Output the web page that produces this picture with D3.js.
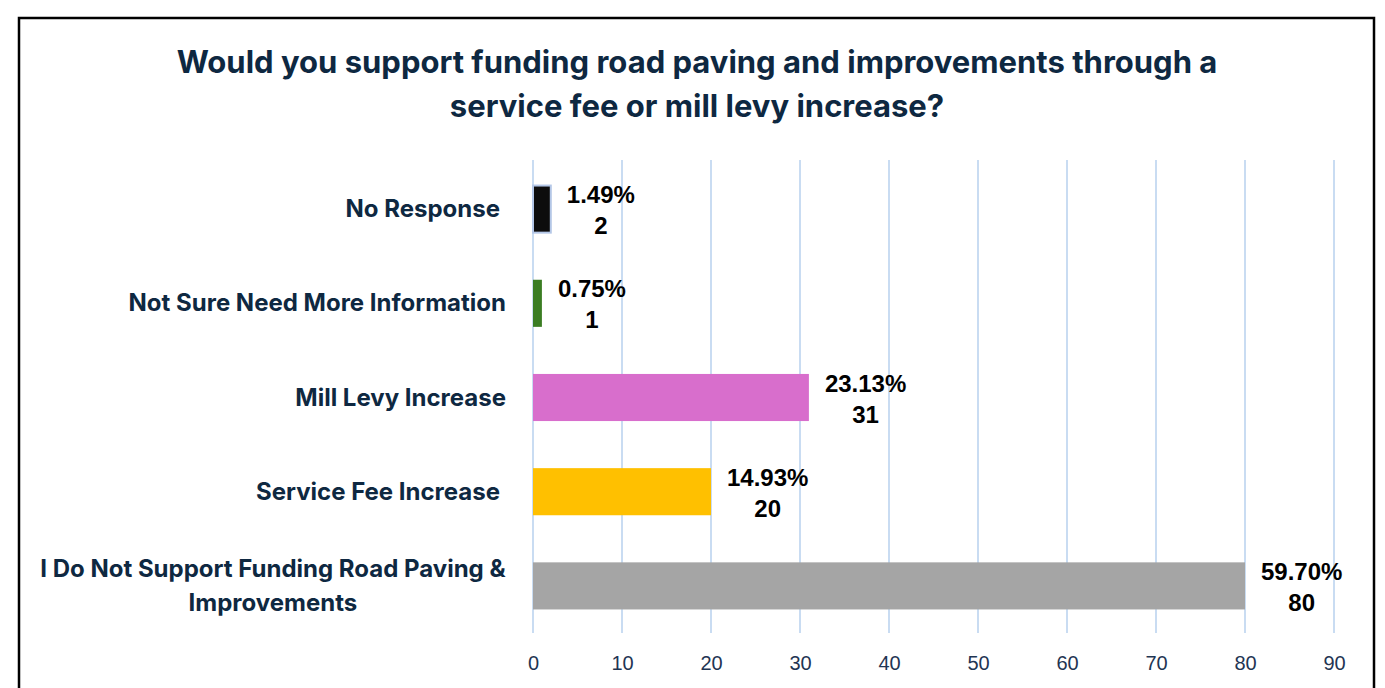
<!DOCTYPE html>
<html lang="en">
<head>
<meta charset="utf-8">
<title>Road Paving Funding Survey</title>
<script src="https://d3js.org/d3.v7.min.js"></script>
<style>
  body { margin: 0; background: #fff; }
  svg { display: block; }
  .title { font-family: Inter, "Noto Sans", sans-serif; font-weight: 700; font-size: 31px; fill: #0e2841; }
  .cat { font-family: Inter, "Noto Sans", sans-serif; font-weight: 700; font-size: 24px; fill: #0e2841; }
  .tick text { font-family: "Liberation Sans", Arial, sans-serif; font-size: 20px; fill: #1f3553; }
  .val { font-family: "Liberation Sans", Arial, sans-serif; font-weight: 700; font-size: 24px; fill: #000; }
</style>
</head>
<body>
<svg width="1385" height="688"></svg>
<script>
// data, top to bottom
const categories = ["No Response", "Not Sure Need More Information", "Mill Levy Increase", "Service Fee Increase", "I Do Not Support Funding Road Paving & Improvements"];
const counts = [2, 1, 31, 20, 80];
const percents = ["1.49%", "0.75%", "23.13%", "14.93%", "59.70%"];
const colors = ["#0d0d0d", "#3b7d23", "#d86ecc", "#ffc000", "#a5a5a5"];
const tickValues = [0, 10, 20, 30, 40, 50, 60, 70, 80, 90];
const titleLines = ["Would you support funding road paving and improvements through a", "service fee or mill levy increase?"];

const svg = d3.select("svg");

// frame
svg.append("rect")
  .attr("x", 19).attr("y", 18)
  .attr("width", 1355).attr("height", 700)
  .attr("fill", "none").attr("stroke", "#000").attr("stroke-width", 2.5);

// title
svg.append("text")
  .attr("class", "title")
  .attr("text-anchor", "middle")
  .selectAll("tspan")
  .data(titleLines)
  .enter().append("tspan")
  .attr("x", 697)
  .attr("y", (d, i) => 73 + i * 44)
  .text(d => d);

const x = d3.scaleLinear().domain([0, 90]).range([533, 1334]);
const y = d3.scaleBand().domain(categories).range([162, 633]).paddingInner(0.5).paddingOuter(0.25);

// gridlines
svg.append("g")
  .selectAll("line")
  .data(tickValues)
  .enter().append("line")
  .attr("x1", d => x(d)).attr("x2", d => x(d))
  .attr("y1", 160).attr("y2", 633)
  .attr("stroke", "#c9dcf2").attr("stroke-width", 2);

// x axis labels
const xAxis = svg.append("g")
  .attr("transform", "translate(0,652)")
  .call(d3.axisBottom(x).tickValues(tickValues).tickSize(0).tickPadding(4));
xAxis.select(".domain").remove();

// bars
svg.append("g")
  .selectAll("rect")
  .data(categories)
  .enter().append("rect")
  .attr("x", x(0))
  .attr("y", d => y(d))
  .attr("width", (d, i) => x(counts[i]) - x(0))
  .attr("height", y.bandwidth())
  .attr("fill", (d, i) => colors[i])
  .attr("stroke", (d, i) => i === 0 ? "#b4c7e7" : "none")
  .attr("stroke-width", 2);

// category labels
const catG = svg.append("g");
categories.forEach((c, i) => {
  const cy = y(c) + y.bandwidth() / 2;
  let lines = [c];
  if (i === 4) lines = ["I Do Not Support Funding Road Paving &", "Improvements"];
  const t = catG.append("text").attr("class", "cat").attr("text-anchor", "middle");
  const shift = i === 0 || i === 3 ? -6 : 0;
  lines.forEach((l, j) => {
    t.append("tspan")
      .attr("x", 0)
      .attr("y", cy + 8 + (j - (lines.length - 1) / 2) * 34)
      .text(l);
  });
  // right-align block, lines centered to each other
  const w = t.node().getBBox().width;
  t.selectAll("tspan").attr("x", 506 + shift - w / 2);
});

// value labels
categories.forEach((c, i) => {
  const cy = y(c) + y.bandwidth() / 2;
  const t = svg.append("text").attr("class", "val").attr("text-anchor", "middle");
  t.append("tspan").attr("x", 0).attr("y", cy - 6).text(percents[i]);
  t.append("tspan").attr("x", 0).attr("y", cy + 25).text(counts[i]);
  const w = t.node().getBBox().width;
  t.selectAll("tspan").attr("x", x(counts[i]) + 16 + w / 2);
});
</script>
</body>
</html>
